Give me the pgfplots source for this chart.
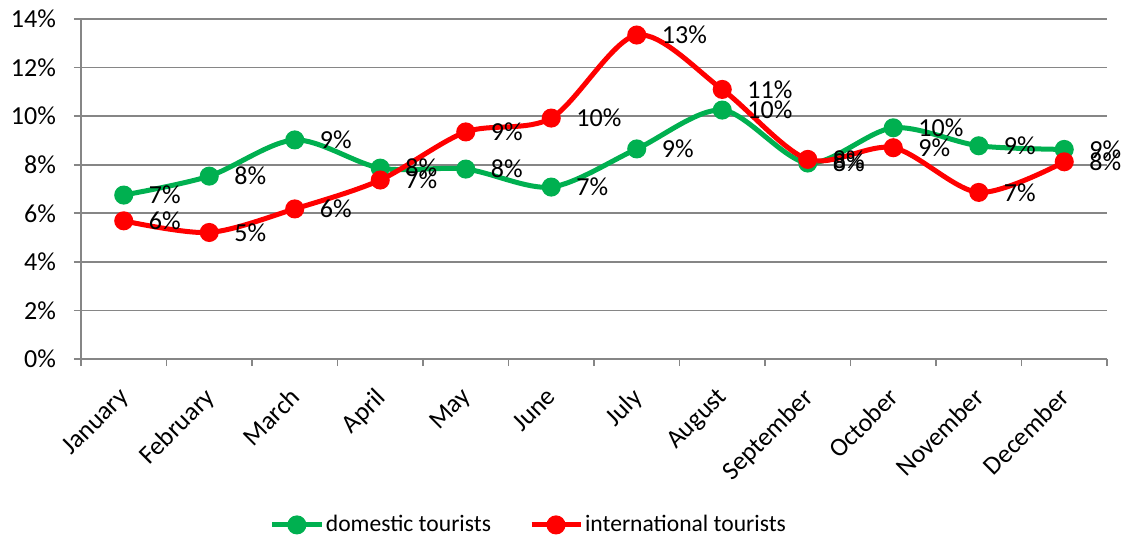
\documentclass[border=0pt]{standalone}
\usepackage{fontspec}
\setmainfont{Carlito}
\usepackage{pgfplots}
\pgfplotsset{compat=1.18}
\definecolor{dgreen}{RGB}{0,176,80}
\definecolor{ired}{RGB}{255,0,0}
\definecolor{axgray}{RGB}{134,134,134}
\begin{document}
\begin{tikzpicture}
\begin{axis}[
  at={(0,0)}, anchor=south west,
  scale only axis, width=513pt, height=170pt,
  xmin=-0.5, xmax=11.5, ymin=0, ymax=14,
  font=\fontsize{13}{15.6}\selectfont,
  xtick={-0.5,0.5,...,11.5},
  xticklabels={},
  extra x ticks={0,1,2,3,4,5,6,7,8,9,10,11},
  extra x tick labels={January,February,March,April,May,June,July,August,September,October,November,December},
  extra x tick style={major tick length=0pt, xticklabel style={xshift=-3pt, yshift=-12pt, rotate=45, anchor=north east, inner sep=1pt}},
  ytick={0,2,4,6,8,10,12,14},
  yticklabels={0\%,2\%,4\%,6\%,8\%,10\%,12\%,14\%},
  yticklabel style={xshift=-5.5pt},
  ymajorgrids,
  grid style={axgray, line width=0.8pt},
  axis x line*=bottom, axis y line*=left,
  axis line style={axgray, line width=0.8pt, -},
  tick style={axgray, line width=0.8pt},
  major tick length=3.5pt,
  tick align=outside,
  nodes near coords,
  point meta=explicit symbolic,
  nodes near coords style={anchor=west, xshift=8pt, text=black, font=\fontsize{13}{15.6}\selectfont},
  legend style={at={(0.4366,-0.488)}, anchor=center, draw=none, fill=none,
    legend columns=2, font=\fontsize{11.8}{14}\selectfont,
    /tikz/every even column/.append style={column sep=18pt},
    nodes={inner sep=1pt}},
  legend image code/.code={%
    \draw[mark repeat=2, mark phase=2] plot coordinates {(0pt,0pt) (12.25pt,0pt) (24.5pt,0pt)};},
]
\addplot[dgreen, line width=2.5pt, smooth, mark=*, mark size=3.5pt, mark options={solid}] coordinates {
 (0,6.75) [7\%]
 (1,7.53) [8\%]
 (2,9.02) [9\%]
 (3,7.86) [8\%]
 (4,7.82) [8\%]
 (5,7.08) [7\%]
 (6,8.65) [9\%]
 (7,10.25) [10\%]
 (8,8.07) [8\%]
 (9,9.52) [10\%]
 (10,8.78) [9\%]
 (11,8.63) [9\%]
};
\addlegendentry{domestic tourists}
\addplot[ired, line width=2.5pt, smooth, mark=*, mark size=3.5pt, mark options={solid}] coordinates {
 (0,5.69) [6\%]
 (1,5.21) [5\%]
 (2,6.18) [6\%]
 (3,7.37) [7\%]
 (4,9.35) [9\%]
 (5,9.92) [10\%]
 (6,13.34) [13\%]
 (7,11.10) [11\%]
 (8,8.22) [8\%]
 (9,8.70) [9\%]
 (10,6.86) [7\%]
 (11,8.12) [8\%]
};
\addlegendentry{international tourists}
\end{axis}
\pgfresetboundingbox
\path[use as bounding box] (-40.5pt,-91pt) rectangle (522.5pt,179.5pt);
\end{tikzpicture}
\end{document}
